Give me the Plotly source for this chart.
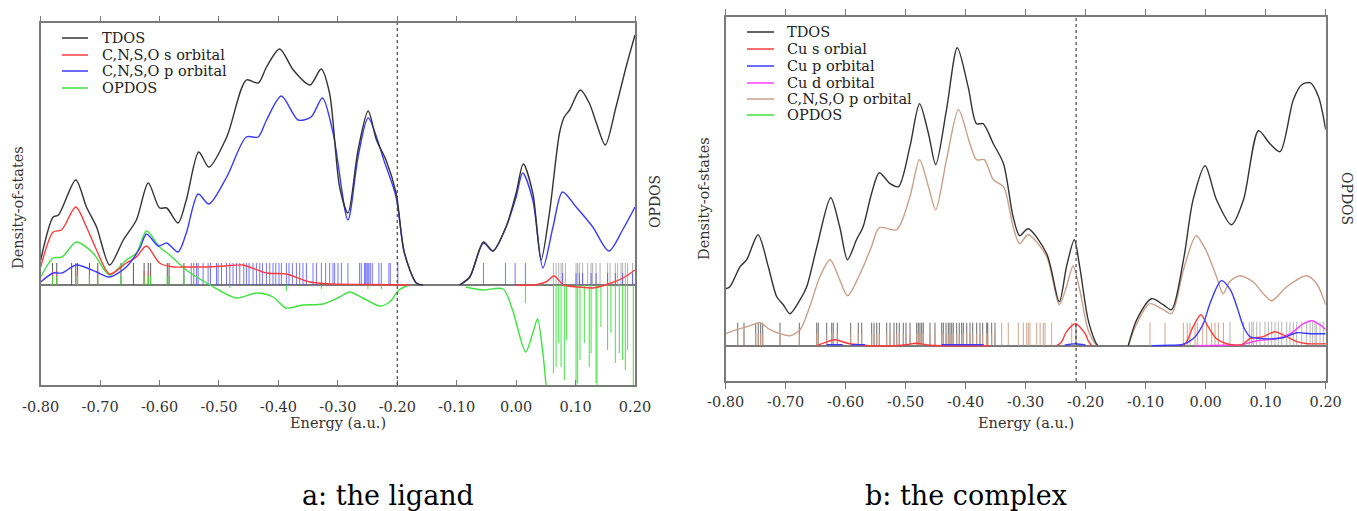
import plotly.graph_objects as go

W, H = 1357, 511

# ---------------- data: panel a (the ligand) ----------------
A_TDOS = [(-0.800,25),(-0.779,68),(-0.770,70),(-0.741,105),(-0.723,78),(-0.706,58),(-0.684,20),
          (-0.661,45),(-0.639,65),(-0.619,102),(-0.600,77),(-0.588,77),(-0.569,62),(-0.555,85),
          (-0.534,133),(-0.517,118),(-0.487,148),(-0.454,205),(-0.434,202),(-0.420,218),(-0.398,236),
          (-0.375,215),(-0.347,200),(-0.328,216),(-0.314,192),(-0.297,98),(-0.283,72),(-0.266,135),
          (-0.249,174),(-0.235,145),(-0.219,125),(-0.202,92),(-0.188,32),(-0.168,2),(-0.157,0),
          (-0.126,None),(-0.095,0),(-0.078,8),(-0.055,43),(-0.039,34),(-0.017,58),(0.000,92),
          (0.012,121),(0.028,92),(0.042,25),(0.056,72),(0.073,152),(0.081,168),(0.090,175),
          (0.108,195),(0.123,182),(0.135,162),(0.150,140),(0.168,178),(0.185,218),(0.200,250)]
A_S = [(-0.800,18),(-0.779,53),(-0.765,55),(-0.741,78),(-0.723,58),(-0.706,35),(-0.684,11),
       (-0.656,22),(-0.639,28),(-0.622,39),(-0.600,22),(-0.577,18),(-0.560,18),(-0.520,18),
       (-0.490,19),(-0.460,20),(-0.420,12),(-0.387,11),(-0.347,3),(-0.310,1),(-0.250,0.5),
       (-0.180,0),(-0.090,None),(0.000,0),(0.030,0),(0.050,3),(0.064,9),(0.080,0),(0.105,-2),
       (0.129,-3),(0.160,2),(0.180,7),(0.200,15)]
A_P = [(-0.800,3),(-0.779,12),(-0.764,12),(-0.740,20),(-0.706,13),(-0.684,8),(-0.656,18),
       (-0.633,37),(-0.622,51),(-0.602,39),(-0.588,42),(-0.569,33),(-0.555,52),(-0.535,91),
       (-0.517,81),(-0.487,108),(-0.454,148),(-0.434,148),(-0.420,165),(-0.395,189),(-0.367,165),
       (-0.345,168),(-0.326,187),(-0.308,152),(-0.283,65),(-0.266,128),(-0.249,167),(-0.221,122),
       (-0.202,88),(-0.188,32),(-0.168,2),(-0.157,0),(-0.126,None),(-0.095,0),(-0.078,8),
       (-0.055,42),(-0.039,34),(-0.017,58),(0.000,88),(0.011,112),(0.028,85),(0.045,17),
       (0.062,58),(0.078,93),(0.101,78),(0.129,58),(0.156,34),(0.179,55),(0.200,78)]
A_OPDOS = [(-0.800,8),(-0.779,27),(-0.764,28),(-0.740,43),(-0.712,32),(-0.684,10),(-0.656,25),
           (-0.639,32),(-0.622,54),(-0.600,38),(-0.583,30),(-0.555,15),(-0.515,0),(-0.471,-13),
           (-0.437,-8),(-0.409,-12),(-0.387,-23),(-0.359,-20),(-0.325,-19),(-0.297,-12),
           (-0.280,-7),(-0.258,-13),(-0.230,-21),(-0.213,-17),(-0.197,-5),(-0.180,0),
           (-0.130,None),(-0.085,-2),(-0.056,-5),(-0.022,-4),(-0.006,-25),(0.016,-67),(0.028,-48),
           (0.036,-34),(0.045,-68),(0.050,-98),(0.060,-150),(0.100,-170),(0.150,-170),(0.200,-170)]

# stick spectra (orbital energies) panel a
A_STICK_TDOS_E = [-0.780,-0.773,-0.748,-0.741,-0.738,-0.718,-0.704,-0.665,-0.644,-0.626,-0.619,
                  -0.615,-0.587,-0.584,-0.559]
A_STICK_TDOS_H = 22
A_STICK_S_E = [-0.780,-0.773,-0.741,-0.738,-0.718,-0.704,-0.626,-0.619]
A_STICK_S_H = 14
A_STICK_OP_UP_E = [-0.780,-0.773,-0.741,-0.738,-0.718,-0.704,-0.665,-0.626,-0.619,-0.615,
                   -0.587,-0.584,-0.559]
A_STICK_OP_UP_H = 9
A_STICK_P_E = [-0.5467,-0.5424,-0.5378,-0.5351,-0.5267,-0.5183,-0.5143,-0.5042,-0.5015,-0.4958,
               -0.4874,-0.4818,-0.4763,-0.4706,-0.4650,-0.4583,-0.4538,-0.4494,-0.4427,-0.4370,
               -0.4314,-0.4269,-0.4202,-0.4146,-0.4091,-0.4045,-0.3990,-0.3950,-0.3866,-0.3822,
               -0.3765,-0.3697,-0.3642,-0.3587,-0.3529,-0.3418,-0.3361,-0.3277,-0.3205,-0.3138,
               -0.3082,-0.3054,-0.2998,-0.2941,-0.2830,-0.2634,-0.2605,-0.2550,-0.2533,-0.2511,
               -0.2494,-0.2477,-0.2454,-0.2420,-0.2309,-0.2269,-0.2141,-0.2118,-0.1990,-0.0550,
               -0.0180,-0.0017,0.0156]
A_STICK_P_H = 22
A_STICK_VIRT_E = [0.0627,0.0672,0.0716,0.0756,0.0783,0.0829,0.1008,0.1035,0.1064,0.1119,0.1203,
                  0.1261,0.1287,0.1345,0.1412,0.1539,0.1580,0.1669,0.1708,0.1765,0.1792,0.1837,
                  0.1876,0.1960]
A_STICK_VIRT_H = 22
A_STICK_VIRT_P_E = [0.0783,0.1008,0.1064,0.1119,0.1261,0.1345,0.1539,0.1669,0.1792,0.1960]
A_STICK_VIRT_P_H = 12
A_STICK_OP_DOWN = [(-0.4818,-3),(-0.3866,-6),(-0.3277,-4),(-0.2494,-4),(-0.2269,-4),(0.0156,-18),
                   (0.0627,-88),(0.0672,-82),(0.0716,-58),(0.0756,-82),(0.0811,-95),(0.0850,-55),
                   (0.1008,-100),(0.1035,-98),(0.1075,-75),(0.1147,-58),(0.1230,-82),(0.1261,-68),
                   (0.1345,-98),(0.1360,-100),(0.1427,-42),(0.1539,-65),(0.1595,-48),(0.1669,-78),
                   (0.1736,-68),(0.1792,-75),(0.1837,-85),(0.1876,-65),(0.1971,-100)]
A_HOMO = -0.20

# ---------------- data: panel b (the complex) ----------------
B_TDOS = [(-0.800,57),(-0.793,59),(-0.776,79),(-0.765,86),(-0.746,111),(-0.729,79),(-0.715,49),
          (-0.704,41),(-0.693,32),(-0.676,46),(-0.665,59),(-0.648,99),(-0.625,148),(-0.610,119),
          (-0.597,86),(-0.582,106),(-0.571,119),(-0.557,152),(-0.544,173),(-0.526,162),(-0.512,159),
          (-0.493,199),(-0.477,242),(-0.462,212),(-0.450,181),(-0.432,236),(-0.414,298),(-0.396,259),
          (-0.382,222),(-0.371,222),(-0.354,202),(-0.337,182),(-0.321,129),(-0.310,110),(-0.296,117),
          (-0.265,92),(-0.244,44),(-0.232,79),(-0.219,106),(-0.210,79),(-0.196,26),(-0.184,4),
          (-0.180,0),(-0.155,None),(-0.129,0),(-0.115,26),(-0.090,47),(-0.071,41),(-0.057,36),
          (-0.037,86),(-0.021,146),(-0.001,180),(0.018,146),(0.043,121),(0.063,146),(0.088,215),
          (0.107,202),(0.124,194),(0.146,246),(0.160,261),(0.174,263),(0.188,249),(0.200,216)]
B_CU_S = [(-0.648,0),(-0.635,3),(-0.618,6),(-0.600,3),(-0.593,2),(-0.576,1),(-0.560,0),(-0.520,0),
          (-0.500,1),(-0.482,2.5),(-0.460,0.5),(-0.400,0),(-0.360,0),(-0.300,None),
          (-0.248,0),(-0.240,4),(-0.232,14),(-0.217,22),(-0.201,12),(-0.195,4),(-0.190,0),
          (-0.100,None),(-0.045,0),(-0.034,2),(-0.021,19),(-0.008,31),(0.004,19),(0.018,7),
          (0.035,2),(0.060,1),(0.074,7),(0.096,9),(0.115,14),(0.135,9),(0.152,4),(0.170,2),(0.200,2)]
B_CU_P = [(-0.632,1),(-0.605,1),(-0.598,None),(-0.590,1),(-0.568,1),(-0.500,None),(-0.440,1),
          (-0.370,1),(-0.300,None),(-0.235,0.5),(-0.217,2),(-0.200,0.5),(-0.150,None),
          (-0.090,0),(-0.060,0.5),(-0.040,1),(-0.021,7),(-0.004,22),(0.007,42),(0.026,65),
          (0.041,56),(0.052,39),(0.063,19),(0.074,9),(0.096,7),(0.129,8),(0.152,13),(0.174,12),
          (0.200,12)]
B_CU_D = [(-0.015,0),(0.030,0.5),(0.060,1),(0.085,5),(0.118,7),(0.141,12),(0.163,22),(0.177,25),
          (0.190,21),(0.200,16)]
B_CNSO_P = [(-0.800,12),(-0.776,17),(-0.754,21),(-0.743,23),(-0.726,16),(-0.710,12),(-0.693,10),
            (-0.676,16),(-0.660,39),(-0.643,69),(-0.626,86),(-0.612,69),(-0.597,50),(-0.576,72),
            (-0.557,99),(-0.544,118),(-0.515,116),(-0.493,149),(-0.477,186),(-0.462,159),
            (-0.450,136),(-0.432,186),(-0.412,236),(-0.393,202),(-0.382,186),(-0.369,186),
            (-0.354,166),(-0.337,159),(-0.321,119),(-0.310,102),(-0.296,111),(-0.265,89),
            (-0.244,41),(-0.232,59),(-0.221,80),(-0.210,56),(-0.196,16),(-0.184,2),(-0.180,0),
            (-0.155,None),(-0.129,0),(-0.115,22),(-0.093,42),(-0.071,36),(-0.057,32),(-0.037,76),
            (-0.016,110),(0.000,96),(0.018,69),(0.029,52),(0.040,64),(0.057,70),(0.079,64),
            (0.096,52),(0.110,45),(0.135,59),(0.168,70),(0.185,62),(0.200,41)]

B_STICK_OCC_E = [-0.780,-0.7695,-0.750,-0.7457,-0.7417,-0.7383,-0.7095,-0.6773,-0.6483,-0.6457,
                 -0.6317,-0.6233,-0.6207,-0.6140,-0.5917,-0.5790,-0.5733,-0.5567,-0.5528,-0.5483,
                 -0.5440,-0.5317,-0.5262,-0.5195,-0.5150,-0.5107,-0.5040,-0.4995,-0.4928,-0.4817,
                 -0.4790,-0.4762,-0.4733,-0.4707,-0.4595,-0.4512,-0.4400,-0.4373,-0.4328,-0.4290,
                 -0.4262,-0.4233,-0.4207,-0.4150,-0.4107,-0.4067,-0.4040,-0.3983,-0.3928,-0.3883,
                 -0.3817,-0.3762,-0.3717,-0.3650,-0.3633,-0.3567,-0.3512,-0.2162]
B_STICK_OCC_H = 23
B_STICK_CNSO_LOW_H = 12
B_STICK_CNSO_E = [-0.3400,-0.3290,-0.3123,-0.3040,-0.2983,-0.2957,-0.2928,-0.2817,-0.2760,
                  -0.2707,-0.2678,-0.2567,-0.2233,-0.0928,-0.0678,-0.0373,-0.0307,-0.0262,
                  -0.0178,-0.0140,-0.0050,0.0017,0.0100,0.0155,0.0212,0.0295]
B_STICK_CNSO_H = 23
B_STICK_VIRT_E = [0.0405,0.0627,0.0727,0.0767,0.0793,0.0850,0.0905,0.0988,0.1043,0.1100,0.1155,
                  0.1210,0.1267,0.1350,0.1405,0.1460,0.1517,0.1600,0.1683,0.1740,0.1783,0.1822,
                  0.1850,0.1905,0.1960]
B_STICK_VIRT_H = 24
B_HOMO = -0.216

TICK_VALS = [-0.8, -0.7, -0.6, -0.5, -0.4, -0.3, -0.2, -0.1, 0.0, 0.1, 0.2]
TICK_TEXT = ["-0.80", "-0.70", "-0.60", "-0.50", "-0.40", "-0.30", "-0.20", "-0.10", "0.00", "0.10", "0.20"]

A_LEGEND = [("TDOS", "#333333"), ("C,N,S,O s orbital", "#ff3b3b"),
            ("C,N,S,O p orbital", "#3b3bff"), ("OPDOS", "#3de33d")]
B_LEGEND = [("TDOS", "#333333"), ("Cu s orbial", "#ff3b3b"), ("Cu p orbital", "#3b3bff"),
            ("Cu d orbital", "#ff40ff"), ("C,N,S,O p orbital", "#c9a08c"), ("OPDOS", "#3de33d")]

# ---------------- helpers ----------------
FONT = "DejaVu Serif"
AXCOL = "#7a7a7a"


def split(pairs):
    return [p[0] for p in pairs], [p[1] for p in pairs]


def sticks(energies, heights):
    xs, ys = [], []
    for e, h in zip(energies, heights):
        xs += [e, e, None]
        ys += [0, h, None]
    return xs, ys


fig = go.Figure()


def add_curve(pairs, color, xa, ya, width=1.4):
    x, y = split(pairs)
    fig.add_trace(go.Scatter(x=x, y=y, mode="lines", xaxis=xa, yaxis=ya, showlegend=False,
                             line=dict(color=color, width=width, shape="spline", smoothing=0.8),
                             hoverinfo="skip"))


def add_sticks(energies, heights, color, xa, ya, width=1):
    if not isinstance(heights, (list, tuple)):
        heights = [heights] * len(energies)
    x, y = sticks(energies, heights)
    fig.add_trace(go.Scatter(x=x, y=y, mode="lines", xaxis=xa, yaxis=ya, showlegend=False,
                             line=dict(color=color, width=width), hoverinfo="skip"))


# panel a sticks
add_sticks(A_STICK_TDOS_E, A_STICK_TDOS_H, "rgba(60,60,60,0.85)", "x", "y")
add_sticks(A_STICK_S_E, A_STICK_S_H, "rgba(255,80,80,0.9)", "x", "y")
add_sticks(A_STICK_OP_UP_E, A_STICK_OP_UP_H, "rgba(60,225,60,0.95)", "x", "y")
add_sticks(A_STICK_P_E, A_STICK_P_H, "rgba(70,70,255,0.75)", "x", "y")
add_sticks(A_STICK_VIRT_E, A_STICK_VIRT_H, "rgba(150,150,150,0.75)", "x", "y")
add_sticks(A_STICK_VIRT_P_E, A_STICK_VIRT_P_H, "rgba(70,70,255,0.75)", "x", "y")
ope, oph = split(A_STICK_OP_DOWN)
add_sticks(ope, oph, "rgba(60,225,60,0.95)", "x", "y")
# panel a curves
add_curve(A_OPDOS, "#3de33d", "x", "y")
add_curve(A_S, "#ff3b3b", "x", "y")
add_curve(A_P, "#3b3bff", "x", "y")
add_curve(A_TDOS, "#333333", "x", "y")
# dummy trace for the top tick axis of panel a
fig.add_trace(go.Scatter(x=[None], y=[None], xaxis="x3", yaxis="y", showlegend=False,
                         hoverinfo="skip"))

# panel b sticks
add_sticks(B_STICK_OCC_E, B_STICK_OCC_H, "rgba(70,70,70,0.8)", "x2", "y2")
add_sticks(B_STICK_OCC_E, B_STICK_CNSO_LOW_H, "rgba(201,160,140,0.95)", "x2", "y2")
add_sticks(B_STICK_CNSO_E, B_STICK_CNSO_H, "rgba(201,160,140,0.95)", "x2", "y2")
add_sticks(B_STICK_VIRT_E, B_STICK_VIRT_H, "rgba(150,150,150,0.7)", "x2", "y2")
# panel b curves
add_curve(B_CNSO_P, "#c9a08c", "x2", "y2")
add_curve(B_TDOS, "#333333", "x2", "y2")
add_curve(B_CU_D, "#ff40ff", "x2", "y2")
add_curve(B_CU_S, "#ff3b3b", "x2", "y2")
add_curve(B_CU_P, "#3b3bff", "x2", "y2")


def X(px):
    return px / W


def Y(py):
    return 1 - py / H


tickfont = dict(family=FONT, size=14.5, color="#333333")
common_x = dict(range=[-0.8, 0.2], tickvals=TICK_VALS, ticktext=TICK_TEXT, showgrid=False,
                zeroline=False, showline=True, linecolor=AXCOL, linewidth=1.5, automargin=False,
                tickcolor=AXCOL, tickwidth=1.2, tickfont=tickfont)
common_y = dict(showgrid=False, showticklabels=False, ticks="", showline=True, mirror=True,
                linecolor=AXCOL, linewidth=1.5, zeroline=True, zerolinecolor=AXCOL,
                zerolinewidth=1.5, automargin=False)

fig.update_layout(
    template="none",
    width=W, height=H, margin=dict(l=0, r=0, t=0, b=0, pad=0, autoexpand=False),
    paper_bgcolor="white", plot_bgcolor="white", showlegend=False,
    xaxis=dict(**common_x, domain=[X(40.7), X(635)], anchor="y", ticks="inside", ticklen=5,
               mirror=True, ticklabelstandoff=8),
    xaxis3=dict(range=[-0.8, 0.2], tickvals=TICK_VALS, overlaying="x", side="top", anchor="y",
                showticklabels=False, ticks="outside", ticklen=6, tickcolor=AXCOL, tickwidth=1.2,
                showline=False, showgrid=False, zeroline=False, automargin=False),
    yaxis=dict(**common_y, domain=[Y(385), Y(22.7)], range=[-100, 262.3], anchor="x"),
    xaxis2=dict(**common_x, domain=[X(725.7), X(1325.7)], anchor="y2", ticks="outside",
                ticklen=6, mirror="ticks", ticklabelstandoff=1),
    yaxis2=dict(**common_y, domain=[Y(381), Y(16.5)], range=[-35.3, 329.2], anchor="x2"),
)

shapes = []
for xr, val in (("x", A_HOMO), ("x2", B_HOMO)):
    shapes.append(dict(type="line", xref=xr, yref=("y domain" if xr == "x" else "y2 domain"),
                       x0=val, x1=val, y0=0, y1=1,
                       line=dict(color="#444444", width=1.2, dash="3px,3px")))

ann = []
# legends
for i, (name, col) in enumerate(A_LEGEND):
    yy = [38, 55, 71, 88][i]
    shapes.append(dict(type="line", xref="paper", yref="paper", x0=X(62), x1=X(88), y0=Y(yy),
                       y1=Y(yy), line=dict(color=col, width=1.5)))
    ann.append(dict(text=name, x=X(100), y=Y(yy), xref="paper", yref="paper", xanchor="left",
                    yanchor="middle", showarrow=False, font=dict(family=FONT, size=14.5,
                                                                 color="#222222")))
for i, (name, col) in enumerate(B_LEGEND):
    yy = [32, 49, 66, 83, 99, 115][i]
    shapes.append(dict(type="line", xref="paper", yref="paper", x0=X(747), x1=X(774), y0=Y(yy),
                       y1=Y(yy), line=dict(color=col, width=1.5)))
    ann.append(dict(text=name, x=X(785), y=Y(yy), xref="paper", yref="paper", xanchor="left",
                    yanchor="middle", showarrow=False, font=dict(family=FONT, size=14.5,
                                                                 color="#222222")))

labfont = dict(family=FONT, size=14.5, color="#333333")
for cx in (337.8, 1025.7):
    ann.append(dict(text="Energy (a.u.)", x=X(cx), y=Y(423), xref="paper", yref="paper",
                    xanchor="center", yanchor="middle", showarrow=False, font=labfont))
ann.append(dict(text="Density-of-states", x=X(18), y=Y(208), xref="paper", yref="paper",
                textangle=-90, xanchor="center", yanchor="middle", showarrow=False, font=labfont))
ann.append(dict(text="Density-of-states", x=X(704), y=Y(199), xref="paper", yref="paper",
                textangle=-90, xanchor="center", yanchor="middle", showarrow=False, font=labfont))
opfont = dict(family=FONT, size=14, color="#333333")
ann.append(dict(text="OPDOS", x=X(655), y=Y(202), xref="paper", yref="paper", textangle=-90,
                xanchor="center", yanchor="middle", showarrow=False, font=opfont))
ann.append(dict(text="OPDOS", x=X(1347), y=Y(198), xref="paper", yref="paper", textangle=90,
                xanchor="center", yanchor="middle", showarrow=False, font=opfont))
capfont = dict(family=FONT, size=27, color="#000000")
ann.append(dict(text="a: the ligand", x=X(388), y=Y(495), xref="paper", yref="paper",
                xanchor="center", yanchor="middle", showarrow=False, font=capfont))
ann.append(dict(text="b: the complex", x=X(966), y=Y(495), xref="paper", yref="paper",
                xanchor="center", yanchor="middle", showarrow=False, font=capfont))

fig.update_layout(shapes=shapes, annotations=ann)
# remove the browser's default 8px page margin so the 1357x511 figure fills the window exactly
fig.write_html("out.html", config={"displayModeBar": False},
               post_script="document.body.style.margin='0';document.body.style.overflow='hidden';")
